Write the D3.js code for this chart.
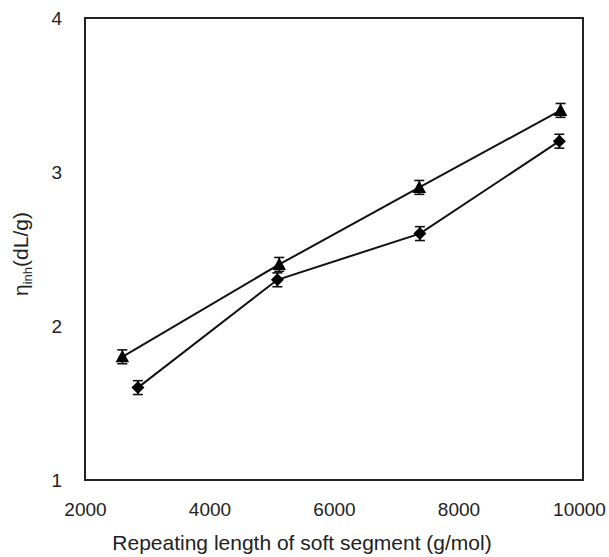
<!DOCTYPE html>
<html>
<head>
<meta charset="utf-8">
<script src="https://cdn.jsdelivr.net/npm/d3@7"></script>
<style>
  body { margin: 0; background: #fff; }
  svg { display: block; font-family: "Liberation Sans", Arial, sans-serif; }
</style>
</head>
<body>
<svg id="chart" width="609" height="557"></svg>
<script>
// Repeating length of soft segment (g/mol) and inherent viscosity (dL/g)
const triangleX = [2600, 5120, 7370, 9640];
const triangleY = [1.8, 2.4, 2.9, 3.4];
const diamondX = [2850, 5090, 7380, 9620];
const diamondY = [1.6, 2.3, 2.6, 3.2];
const errorBar = [0.045, 0.045, 0.045, 0.045];
const xTicks = [2000, 4000, 6000, 8000, 10000];
const yTicks = [1, 2, 3, 4];

const svg = d3.select("#chart");
const plotLeft = 85, plotRight = 583, plotTop = 18, plotBottom = 480;

const x = d3.scaleLinear().domain([2000, 10000]).range([plotLeft, plotRight]);
const y = d3.scaleLinear().domain([1, 4]).range([plotBottom, plotTop]);

// x axis labels
const xAxis = svg.append("g")
  .attr("transform", `translate(0,${plotBottom})`)
  .call(d3.axisBottom(x).tickValues(xTicks).tickSize(0).tickPadding(23).tickFormat(d3.format("d")));
xAxis.select(".domain").remove();
xAxis.selectAll("text").attr("font-size", 19).attr("fill", "#222").attr("font-family", "Liberation Sans, Arial, sans-serif");
// keep the last label inside the page
xAxis.selectAll(".tick").filter(d => d === 10000).select("text").attr("dx", -4);

// y axis labels
const yAxis = svg.append("g")
  .attr("transform", `translate(${plotLeft},0)`)
  .call(d3.axisLeft(y).tickValues(yTicks).tickSize(0).tickPadding(23).tickFormat(d3.format("d")));
yAxis.select(".domain").remove();
yAxis.selectAll("text").attr("font-size", 19).attr("fill", "#222").attr("font-family", "Liberation Sans, Arial, sans-serif");

// plot frame
svg.append("rect")
  .attr("x", plotLeft).attr("y", plotTop)
  .attr("width", plotRight - plotLeft).attr("height", plotBottom - plotTop)
  .attr("fill", "none").attr("stroke", "#222").attr("stroke-width", 2);

// axis titles
svg.append("text")
  .attr("x", 302).attr("y", 550)
  .attr("text-anchor", "middle").attr("font-size", 21).attr("fill", "#222")
  .text("Repeating length of soft segment (g/mol)");

const yTitle = svg.append("text")
  .attr("transform", `translate(28,${(plotTop + plotBottom) / 2 + 5}) rotate(-90)`)
  .attr("text-anchor", "middle").attr("font-size", 21).attr("fill", "#222");
yTitle.append("tspan").text("η");
yTitle.append("tspan").attr("font-size", 13).attr("dy", 4).text("inh");
yTitle.append("tspan").attr("dy", -4).text("(dL/g)");

function drawSeries(xs, ys, shape) {
  const pts = xs.map((d, i) => ({ x: d, y: ys[i], e: errorBar[i] }));
  svg.append("path")
    .datum(pts)
    .attr("fill", "none").attr("stroke", "#111").attr("stroke-width", 2)
    .attr("d", d3.line().x(d => x(d.x)).y(d => y(d.y)));

  const eb = svg.append("g").attr("stroke", "#111").attr("stroke-width", 1.6);
  pts.forEach(p => {
    eb.append("line").attr("x1", x(p.x)).attr("x2", x(p.x))
      .attr("y1", y(p.y + p.e)).attr("y2", y(p.y - p.e));
    [p.y + p.e, p.y - p.e].forEach(v => {
      eb.append("line").attr("x1", x(p.x) - 5).attr("x2", x(p.x) + 5)
        .attr("y1", y(v)).attr("y2", y(v));
    });
  });

  svg.append("g").selectAll("path")
    .data(pts).join("path")
    .attr("transform", d => `translate(${x(d.x)},${y(d.y)})`)
    .attr("fill", "#000")
    .attr("d", shape);
}

const trianglePath = "M0,-7L6.8,5.5L-6.8,5.5Z";
const diamondPath = "M0,-6.5L6.5,0L0,6.5L-6.5,0Z";

drawSeries(triangleX, triangleY, trianglePath);
drawSeries(diamondX, diamondY, diamondPath);
</script>
</body>
</html>
